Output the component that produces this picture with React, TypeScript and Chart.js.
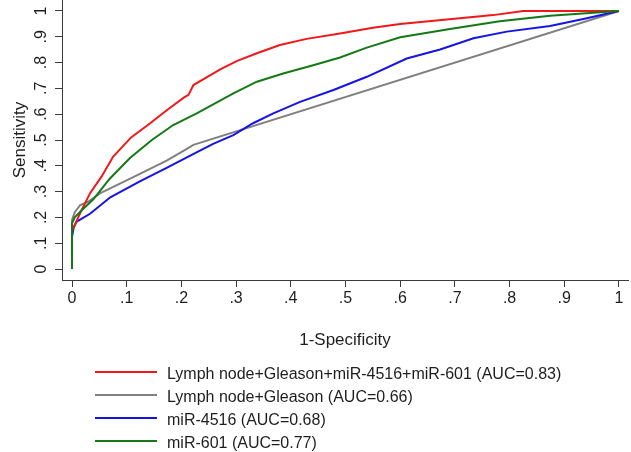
import React, { useEffect, useRef } from "react";
import { Chart, registerables } from "chart.js";

Chart.register(...registerables);

// ---- Data ----
const TICK_VALUES = [0, 0.1, 0.2, 0.3, 0.4, 0.5, 0.6, 0.7, 0.8, 0.9, 1];
const TICK_LABELS = ["0", ".1", ".2", ".3", ".4", ".5", ".6", ".7", ".8", ".9", "1"];

const LABELS = [
  "Lymph node+Gleason+miR-4516+miR-601 (AUC=0.83)",
  "Lymph node+Gleason (AUC=0.66)",
  "miR-4516 (AUC=0.68)",
  "miR-601 (AUC=0.77)",
];

const COMBINED_X = [0, 0, 0.006, 0.015, 0.033, 0.054, 0.075, 0.108, 0.143, 0.158, 0.175, 0.205, 0.213, 0.222, 0.246, 0.271, 0.301, 0.338, 0.38, 0.429, 0.49, 0.55, 0.6, 0.69, 0.77, 0.825, 1];
const COMBINED_Y = [0, 0.15, 0.175, 0.217, 0.294, 0.358, 0.435, 0.51, 0.565, 0.59, 0.618, 0.665, 0.675, 0.713, 0.743, 0.774, 0.806, 0.836, 0.868, 0.892, 0.913, 0.935, 0.95, 0.968, 0.984, 1, 1];

const CLINICAL_X = [0, 0, 0.005, 0.015, 0.03, 0.051, 0.112, 0.173, 0.21, 0.222, 1];
const CLINICAL_Y = [0, 0.19, 0.22, 0.248, 0.261, 0.293, 0.356, 0.42, 0.466, 0.481, 1];

const MIR4516_X = [0, 0, 0.003, 0.008, 0.033, 0.07, 0.124, 0.173, 0.225, 0.258, 0.295, 0.331, 0.368, 0.417, 0.478, 0.539, 0.612, 0.673, 0.734, 0.795, 0.874, 0.935, 1];
const MIR4516_Y = [0, 0.125, 0.16, 0.183, 0.214, 0.278, 0.34, 0.392, 0.449, 0.485, 0.519, 0.565, 0.603, 0.648, 0.694, 0.745, 0.816, 0.851, 0.894, 0.92, 0.942, 0.969, 1];

const MIR601_X = [0, 0, 0.005, 0.015, 0.039, 0.069, 0.106, 0.146, 0.185, 0.228, 0.295, 0.338, 0.386, 0.441, 0.49, 0.539, 0.6, 0.691, 0.782, 0.874, 1];
const MIR601_Y = [0, 0.177, 0.2, 0.222, 0.27, 0.35, 0.43, 0.5, 0.558, 0.603, 0.681, 0.726, 0.758, 0.79, 0.82, 0.858, 0.898, 0.93, 0.96, 0.982, 1];

const COLORS = ["#f01818", "#808080", "#1414e6", "#137a13"];
const DRAW_ORDER = [1, 3, 2, 0];

const SERIES_X = [COMBINED_X, CLINICAL_X, MIR4516_X, MIR601_X];
const SERIES_Y = [COMBINED_Y, CLINICAL_Y, MIR4516_Y, MIR601_Y];

const FONT = "'Liberation Sans', Arial, sans-serif";
const AXIS_COLOR = "#3a3a3a";
const TEXT_COLOR = "#1e1e1e";

export default function App() {
  const canvasRef = useRef<HTMLCanvasElement | null>(null);

  useEffect(() => {
    const canvas = canvasRef.current;
    if (!canvas) return;
    const datasets = LABELS.map((label, i) => ({
      label,
      data: SERIES_X[i].map((x, j) => ({ x, y: SERIES_Y[i][j] })),
      borderColor: COLORS[i],
      backgroundColor: COLORS[i],
      borderWidth: 2,
      pointRadius: 0,
      tension: 0,
      fill: false,
      order: DRAW_ORDER[i],
    }));

    const setTicks = (scale: any) => {
      scale.ticks = TICK_VALUES.map((v) => ({ value: v }));
    };
    const fmt = (_v: any, idx: number) => TICK_LABELS[idx];

    const chart = new Chart(canvas, {
      type: "line",
      data: { datasets },
      options: {
        responsive: false,
        maintainAspectRatio: false,
        animation: false,
        devicePixelRatio: 1,
        layout: { padding: { left: 0, right: 3, top: 0, bottom: 97 } },
        plugins: {
          legend: { display: false },
          tooltip: { enabled: false },
        },
        scales: {
          x: {
            type: "linear",
            min: -0.0183,
            max: 1.0165,
            afterBuildTicks: setTicks,
            afterFit: (scale: any) => {
              scale.height = 75;
              scale.paddingLeft = 0;
              scale.paddingRight = 0;
            },
            border: { display: true, color: AXIS_COLOR, width: 1 },
            grid: {
              drawOnChartArea: false,
              drawTicks: true,
              tickLength: 7,
              tickColor: AXIS_COLOR,
              color: AXIS_COLOR,
            },
            ticks: {
              autoSkip: false,
              maxRotation: 0,
              minRotation: 0,
              padding: 2,
              color: TEXT_COLOR,
              font: { family: FONT, size: 16 },
              callback: fmt,
            },
            title: {
              display: true,
              text: "1-Specificity",
              color: TEXT_COLOR,
              font: { family: FONT, size: 17 },
              padding: { top: 0, bottom: 4 },
            },
          },
          y: {
            type: "linear",
            min: -0.0426,
            max: 1.0426,
            afterBuildTicks: setTicks,
            afterFit: (scale: any) => {
              scale.width = 62;
              scale.paddingTop = 0;
              scale.paddingBottom = 0;
            },
            border: { display: true, color: AXIS_COLOR, width: 1 },
            grid: {
              drawOnChartArea: false,
              drawTicks: true,
              tickLength: 7,
              tickColor: AXIS_COLOR,
              color: AXIS_COLOR,
            },
            ticks: {
              autoSkip: false,
              minRotation: 90,
              maxRotation: 90,
              crossAlign: "center",
              padding: 7,
              color: TEXT_COLOR,
              font: { family: FONT, size: 16 },
              callback: fmt,
            },
            title: {
              display: true,
              text: "Sensitivity",
              color: TEXT_COLOR,
              font: { family: FONT, size: 17 },
              padding: { top: 10, bottom: 0 },
            },
          },
        },
      },
    } as any);

    return () => chart.destroy();
  }, []);

  const rowTops = [372, 395, 418, 441];

  return (
    <div
      style={{
        position: "fixed",
        left: 0,
        top: 0,
        width: 631,
        height: 452,
        background: "#ffffff",
        overflow: "hidden",
      }}
    >
      <canvas
        ref={canvasRef}
        width={631}
        height={452}
        style={{ position: "absolute", left: 0, top: 0, width: 631, height: 452 }}
      />
      {LABELS.map((label, i) => (
        <React.Fragment key={label}>
          <div
            style={{
              position: "absolute",
              left: 95,
              top: rowTops[i] - 1,
              width: 62,
              height: 2,
              background: COLORS[i],
            }}
          />
          <div
            style={{
              position: "absolute",
              left: 167,
              top: rowTops[i] - 8.5,
              fontFamily: FONT,
              fontSize: 16,
              lineHeight: "20px",
              color: TEXT_COLOR,
              whiteSpace: "nowrap",
            }}
          >
            {label}
          </div>
        </React.Fragment>
      ))}
    </div>
  );
}
